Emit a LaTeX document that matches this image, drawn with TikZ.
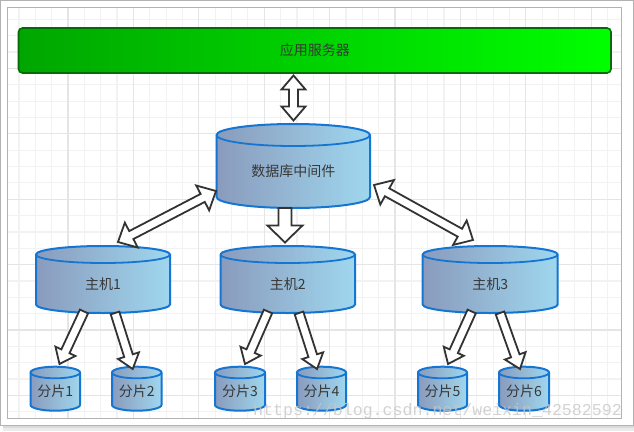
\documentclass[tikz,border=0pt]{standalone}
\usepackage{fontspec}
\setmainfont{Noto Sans CJK SC}
\newfontfamily\wmfont{Liberation Mono}
\usetikzlibrary{calc}
\definecolor{cylL}{HTML}{8A9BBD}
\definecolor{cylR}{HTML}{9FD7EE}
\definecolor{cylB}{HTML}{1476D2}
\definecolor{arrowB}{HTML}{333333}
\definecolor{txtC}{HTML}{383838}
\definecolor{appB}{HTML}{056A05}
\tikzset{
  cylbody/.style={left color=cylL,right color=cylR,draw=cylB,line width=2pt},
  cylrim/.style={draw=cylB,line width=1.8pt},
  cyllabel/.style={font=\fontsize{14}{16}\selectfont,text=txtC,inner sep=0pt},
  blockarrowline/.style={draw=arrowB,fill=white,line width=1.8pt,line join=miter},
  appbar/.style={draw=appB,left color=green!65!black,right color=green,line width=1.6pt,rounded corners=4pt,minimum width=592.5pt,minimum height=45pt,inner sep=0pt,font=\fontsize{14}{16}\selectfont,text=txtC}
}
\newcommand\cylnode[7]{%
  \pgfmathsetmacro\cxa{#2}\pgfmathsetmacro\cxb{#3}\pgfmathsetmacro\cya{#4}\pgfmathsetmacro\cry{#5}\pgfmathsetmacro\cyb{#6}%
  \pgfmathsetmacro\crx{(\cxb-\cxa)/2}\pgfmathsetmacro\cyc{\cya+\cry}\pgfmathsetmacro\cyd{\cyb-\cry}%
  \pgfmathsetmacro\cxm{(\cxa+\cxb)/2}\pgfmathsetmacro\cym{(\cyc+\cyb)/2}%
  \draw[cylbody] (\cxa,\cyc) -- (\cxa,\cyd) arc[start angle=180,end angle=360,x radius=\crx pt,y radius=\cry pt] -- (\cxb,\cyc) arc[start angle=0,end angle=180,x radius=\crx pt,y radius=\cry pt] -- cycle;
  \draw[cylrim] (\cxa,\cyc) arc[start angle=180,end angle=360,x radius=\crx pt,y radius=\cry pt];
  \node[cyllabel] (#1) at (\cxm,\cym) {#7};
}
% #1 from, #2 to, #3 head half width, #4 shaft half width, #5 head length
\newcommand\blockarrow[5]{%
  \coordinate (hb) at ($(#2)!#5pt!(#1)$);
  \draw[blockarrowline] ($(#1)!#4pt!90:(#2)$) -- ($(hb)!#4pt!90:(#2)$) -- ($(hb)!#3pt!90:(#2)$) -- (#2) -- ($(hb)!#3pt!-90:(#2)$) -- ($(hb)!#4pt!-90:(#2)$) -- ($(#1)!#4pt!-90:(#2)$) -- cycle;
}
\newcommand\dblockarrow[5]{%
  \coordinate (hb) at ($(#2)!#5pt!(#1)$);
  \coordinate (ha) at ($(#1)!#5pt!(#2)$);
  \draw[blockarrowline] (#1) -- ($(ha)!#3pt!90:(#2)$) -- ($(ha)!#4pt!90:(#2)$) -- ($(hb)!#4pt!90:(#2)$) -- ($(hb)!#3pt!90:(#2)$) -- (#2) -- ($(hb)!#3pt!-90:(#2)$) -- ($(hb)!#4pt!-90:(#2)$) -- ($(ha)!#4pt!-90:(#2)$) -- ($(ha)!#3pt!-90:(#2)$) -- cycle;
}
\begin{document}
\begin{tikzpicture}[x=1pt,y=-1pt]
\useasboundingbox (0,0) rectangle (634,431);
% shadow and page
\fill[white] (0,0) rectangle (634,431);
\fill[black!8] (3,426) rectangle (634,431);
\fill[black!14] (3,425.5) rectangle (634,428);
\fill[white,draw=black!30,line width=0.8pt] (0.5,0.5) rectangle (633.5,425);
% grid
\begin{scope}
\clip (7.5,7.5) rectangle (621.5,418);
\foreach \i in {0,...,40}{
  \draw[black!5,line width=1.2pt] ({2.6+16.35*\i},0) -- ({2.6+16.35*\i},431);
  \draw[black!5,line width=1.2pt] (0,{3+16.35*\i}) -- (634,{3+16.35*\i});
}
\foreach \i in {0,...,10}{
  \draw[black!10,line width=1.3pt] ({2.6+65.4*\i},0) -- ({2.6+65.4*\i},431);
  \draw[black!10,line width=1.3pt] (0,{3+65.4*\i}) -- (634,{3+65.4*\i});
}
\end{scope}
\draw[black!30,line width=0.8pt] (7.5,7.5) rectangle (621.5,418);
% nodes
\node[appbar] (app) at (314.75,50.5) {应用服务器};
\cylnode{mid}{216.5}{370}{124}{11}{208}{数据库中间件}
\cylnode{hosta}{36}{170}{246}{8.5}{313}{主机1}
\cylnode{hostb}{220.5}{355}{246}{8.5}{313}{主机2}
\cylnode{hostc}{422.7}{557.7}{246}{8.5}{313}{主机3}
\cylnode{sa}{30.5}{80}{366.7}{5.8}{410.7}{分片1}
\cylnode{sb}{112}{161.5}{366.7}{5.8}{410.7}{分片2}
\cylnode{sc}{215}{265}{366.7}{5.8}{410.7}{分片3}
\cylnode{sd}{297}{346}{366.7}{5.8}{410.7}{分片4}
\cylnode{se}{418}{467}{366.7}{5.8}{410.7}{分片5}
\cylnode{sf}{499}{549}{366.7}{5.8}{410.7}{分片6}
% connector ends
\coordinate (appdown) at (293.5,75.5);
\coordinate (midup) at (293.5,120.5);
\coordinate (midl) at (216,191);
\coordinate (hostaup) at (118,242);
\coordinate (midr) at (374,185);
\coordinate (hostcup) at (473,240);
\coordinate (middown) at (285,208);
\coordinate (hostbup) at (285,242.5);
\coordinate (a1) at (84,311.5);
\coordinate (sa1) at (59.5,364);
\coordinate (a2) at (115,313);
\coordinate (sb1) at (132.7,369);
\coordinate (b1) at (268,311.5);
\coordinate (sc1) at (245,364);
\coordinate (b2) at (299,313);
\coordinate (sd1) at (317,369);
\coordinate (c1) at (471.7,311.5);
\coordinate (se1) at (448,364);
\coordinate (c2) at (500,313);
\coordinate (sf1) at (520,369);
% connectors
\dblockarrow{appdown}{midup}{12}{4.5}{14}
\dblockarrow{midl}{hostaup}{14}{4.5}{15}
\dblockarrow{midr}{hostcup}{14}{4.5}{15}
\blockarrow{middown}{hostbup}{17.5}{6.5}{17}
\blockarrow{a1}{sa1}{11}{4.5}{14}
\blockarrow{a2}{sb1}{11}{4.5}{14}
\blockarrow{b1}{sc1}{11}{4.5}{14}
\blockarrow{b2}{sd1}{11}{4.5}{14}
\blockarrow{c1}{se1}{11}{4.5}{14}
\blockarrow{c2}{sf1}{11}{4.5}{14}
% watermark
\node[anchor=east,inner sep=0pt,text=black!22,font=\wmfont\fontsize{16.6}{18}\selectfont,opacity=0.8] (wm) at (622,411) {https://blog.csdn.net/weixin\_42582592};
\end{tikzpicture}
\end{document}
